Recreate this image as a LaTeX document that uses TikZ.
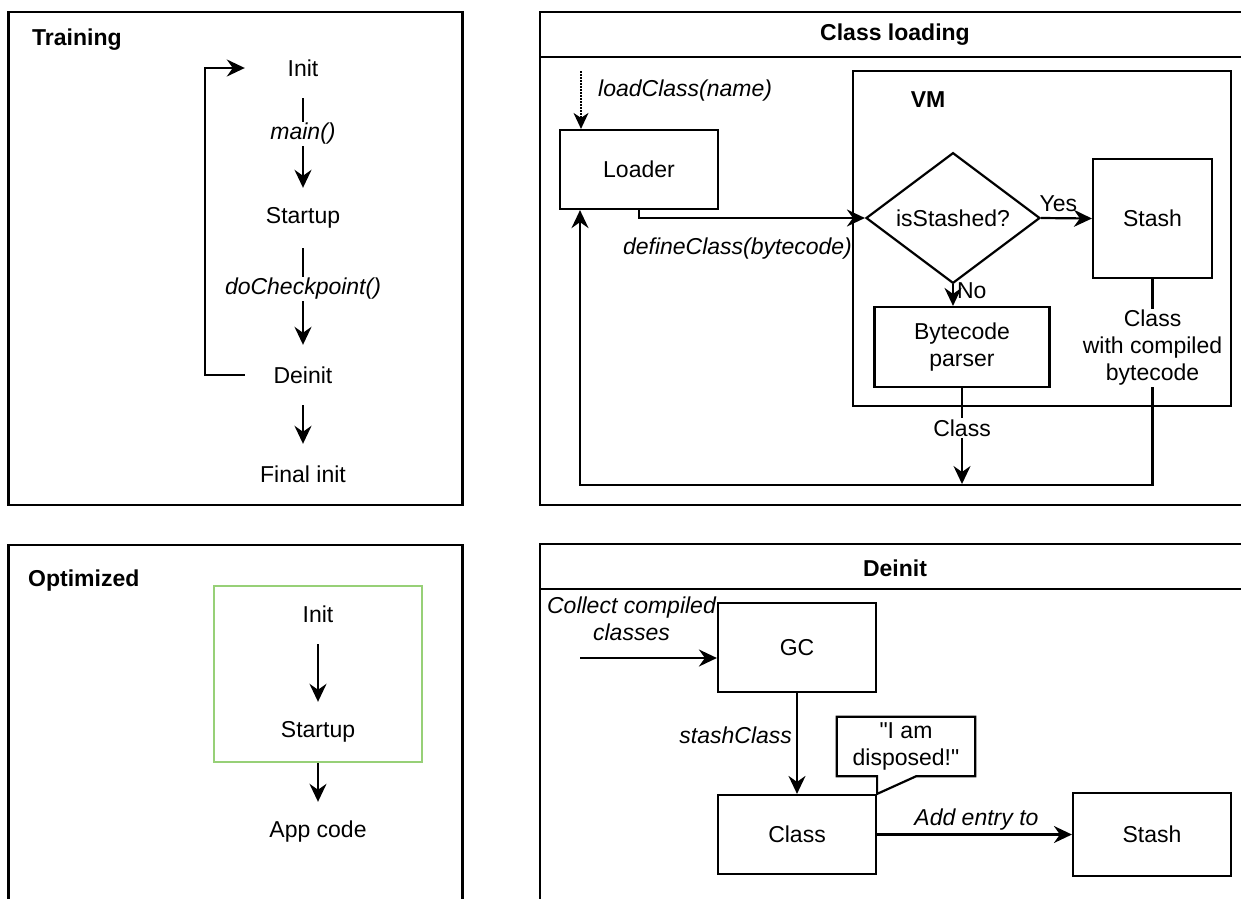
\documentclass[tikz,border=0pt]{standalone}
\usepackage{fontspec}
\setmainfont{Liberation Sans}[Ligatures=TeXOff]
\usetikzlibrary{arrows.meta,shapes.geometric}
\definecolor{optgreen}{HTML}{97D077}
\begin{document}
\begin{tikzpicture}[x=1pt,y=-1pt,
  txt/.style={font=\fontsize{23}{27}\selectfont, inner sep=0pt, align=center},
  btxt/.style={txt, font=\fontsize{23}{27}\selectfont\bfseries},
  itxt/.style={txt, font=\fontsize{23}{27}\selectfont\itshape},
  lbl/.style={txt, fill=white, inner sep=1.5pt},
  ilbl/.style={itxt, fill=white, inner sep=1.5pt},
  tnode/.style={txt, minimum width=116pt, minimum height=60pt},
  box/.style={txt, draw, line width=2.2pt, rectangle},
  panel/.style={draw, line width=2.2pt},
  plain/.style={line width=2.2pt, line join=miter},
  arr/.style={line width=2.2pt, -{Stealth[length=18pt,width=17pt,inset=6pt]}},
  dotarr/.style={line width=1.4pt, dash pattern=on 1.5pt off 1.5pt, -{Stealth[length=16pt,width=15pt,inset=5pt]}}
]
\clip (0,0) rectangle (1241,898);

% ---------------- Training ----------------
\draw[panel] (8.5,12) rectangle (462.5,505);
\node[btxt, anchor=west] (ttl) at (32,40) {Training};
\node[tnode] (tinit) at (303,68) {Init};
\node[tnode] (tstart) at (303,218) {Startup};
\node[tnode] (tdeinit) at (303,375) {Deinit};
\node[tnode] (tfinal) at (303,474) {Final init};
\draw[arr] (tinit) -- node[ilbl,pos=0.4]{main()} (tstart);
\draw[arr] (tstart) -- node[ilbl,pos=0.42]{doCheckpoint()} (tdeinit);
\draw[arr] (tdeinit) -- (tfinal);
\draw[arr] (tdeinit.west) -- ++(-40,0) |- (tinit.west);

% ---------------- Optimized ----------------
\draw[panel] (8.5,545) rectangle (462.5,920);
\node[btxt, anchor=west] (otl) at (28,581) {Optimized};
\node[draw=optgreen, line width=1.8pt, minimum width=208pt, minimum height=176pt, inner sep=0pt] (obox) at (318,674) {};
\node[tnode] (oinit) at (318,614) {Init};
\node[tnode] (ostart) at (318,732) {Startup};
\node[tnode] (oapp) at (318,832) {App code};
\draw[arr] (oinit) -- (ostart);
\draw[arr] (obox) -- (oapp);

% ---------------- Class loading ----------------
\draw[panel] (540,12) rectangle (1260,505);
\draw[panel] (540,57) -- (1260,57);
\node[btxt] (cltitle) at (895,35) {Class loading};
\node[box, minimum width=378pt, minimum height=335pt] (vm) at (1042,238.5) {};
\node[btxt] (vmlbl) at (928,100) {VM};
\node[box, minimum width=158pt, minimum height=79pt] (loader) at (639,169.5) {Loader};
\coordinate (lcin) at (581,71);
\draw[dotarr] (lcin) -- (lcin |- loader.north);
\node[itxt, anchor=west] (lcl) at (598,91) {loadClass(name)};
\node[diamond, draw, line width=2.2pt, txt, minimum width=174pt, minimum height=98pt] (dia) at (953,218) {isStashed?};
\draw[arr] (loader.south) |- node[itxt, pos=0.75, xshift=-14.5pt, yshift=-31pt]{defineClass(bytecode)} (dia.west);
\node[box, minimum width=119pt, minimum height=119pt] (cstash) at (1152.5,218.5) {Stash};
\draw[arr] (dia.east) -- node[txt, pos=0.34, yshift=14pt]{Yes} (cstash.west);
\node[box, minimum width=175pt, minimum height=80pt] (parser) at (962,347) {Bytecode\\parser};
\draw[arr] (dia.south) -- node[txt, pos=0.28, anchor=west, xshift=3pt]{No} (dia.south |- parser.north);
\coordinate (cjoin) at (962,484);
\draw[arr] (parser.south) -- node[lbl, pos=0.42]{Class} (cjoin);
\draw[arr] (cstash.south) -- node[lbl, pos=0.335]{Class\\with compiled\\bytecode} ++(0,205.5) -| ([xshift=-59pt]loader.south);

% ---------------- Deinit ----------------
\draw[panel] (540,544) rectangle (1260,920);
\draw[panel] (540,589) -- (1260,589);
\node[btxt] (dtitle) at (895,568) {Deinit};
\node[box, minimum width=158pt, minimum height=89pt] (gc) at (797,647.5) {GC};
\coordinate (gcin) at (580,658);
\draw[arr] (gcin) -- node[itxt, pos=0.376, yshift=39pt]{Collect compiled\\classes} (gcin -| gc.west);
\node[box, minimum width=158pt, minimum height=79pt] (dclass) at (797,834.5) {Class};
\draw[arr] (gc) -- node[itxt, anchor=east, pos=0.42, xshift=-4pt]{stashClass} (dclass);
\node[txt, minimum width=138pt, minimum height=59pt] (callout) at (906,746.5) {"I am\\disposed!"};
\draw[plain] (callout.south west) -- (callout.north west) -- (callout.north east) -- (callout.south east) -- ([xshift=-59pt]callout.south east) -- (dclass.north east) -- (dclass.north east |- callout.south) -- cycle;
\node[box, minimum width=158pt, minimum height=83pt] (dstash) at (1152,834.5) {Stash};
\draw[arr] (dclass) -- node[itxt, pos=0.51, yshift=15pt]{Add entry to} (dstash);
\end{tikzpicture}
\end{document}
